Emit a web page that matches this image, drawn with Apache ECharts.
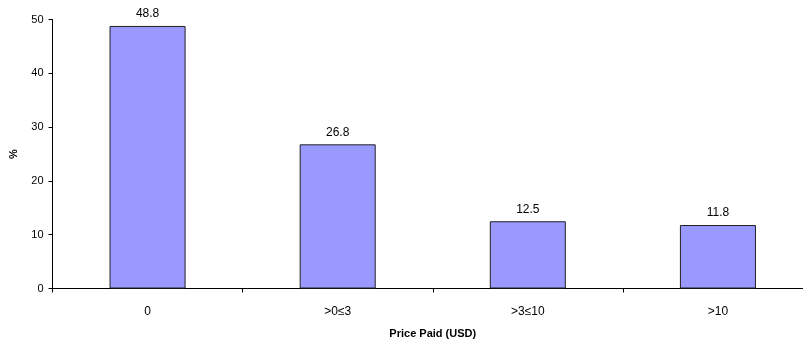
<!DOCTYPE html>
<html>
<head>
<meta charset="utf-8">
<script src="https://cdn.jsdelivr.net/npm/echarts@6/dist/echarts.min.js"></script>
<style>
  html, body { margin: 0; padding: 0; background: #fff; }
  #chart { width: 803px; height: 342px; }
</style>
</head>
<body>
<div id="chart"></div>
<script>
// Share of purchases by price paid
const categories = ['0', '>0≤3', '>3≤10', '>10'];
const shares = [48.8, 26.8, 12.5, 11.8];
const yTicks = [0, 10, 20, 30, 40, 50];

const chart = echarts.init(document.getElementById('chart'));
chart.setOption({
  animation: false,
  grid: { left: 52.5, right: -10, top: 19.5, bottom: 53.5, containLabel: false, outerBoundsMode: 'none' },
  xAxis: {
    type: 'category',
    data: categories,
    name: 'Price Paid (USD)',
    nameLocation: 'middle',
    nameGap: 40,
    nameTextStyle: { fontFamily: 'Arial, Liberation Sans, sans-serif', fontSize: 11, fontWeight: 'bold', color: '#000' },
    axisLine: { lineStyle: { color: '#000', width: 1 } },
    axisTick: { show: true, alignWithLabel: false, length: 4, lineStyle: { color: '#000' } },
    axisLabel: { fontFamily: 'Arial, Liberation Sans, sans-serif', fontSize: 12, color: '#000', margin: 17 },
    splitLine: { show: false }
  },
  yAxis: {
    type: 'value',
    min: yTicks[0],
    max: yTicks[yTicks.length - 1],
    interval: yTicks[1] - yTicks[0],
    name: '%',
    nameLocation: 'middle',
    nameGap: 33,
    nameRotate: 90,
    nameTextStyle: { fontFamily: 'Arial, Liberation Sans, sans-serif', fontSize: 11, fontWeight: 'bold', color: '#000' },
    axisLine: { show: true, lineStyle: { color: '#000', width: 1 } },
    axisTick: { show: true, length: 4, lineStyle: { color: '#000' } },
    axisLabel: { fontFamily: 'Arial, Liberation Sans, sans-serif', fontSize: 11, color: '#000', margin: 9 },
    splitLine: { show: false }
  },
  series: [{
    type: 'bar',
    data: shares,
    barWidth: '40%',
    itemStyle: { color: '#9999ff', borderColor: '#222', borderWidth: 1 },
    label: {
      show: true,
      position: 'top',
      distance: 6,
      fontFamily: 'Arial, Liberation Sans, sans-serif',
      fontSize: 12,
      color: '#000',
      formatter: p => p.value.toFixed(1)
    }
  }]
});
</script>
</body>
</html>
